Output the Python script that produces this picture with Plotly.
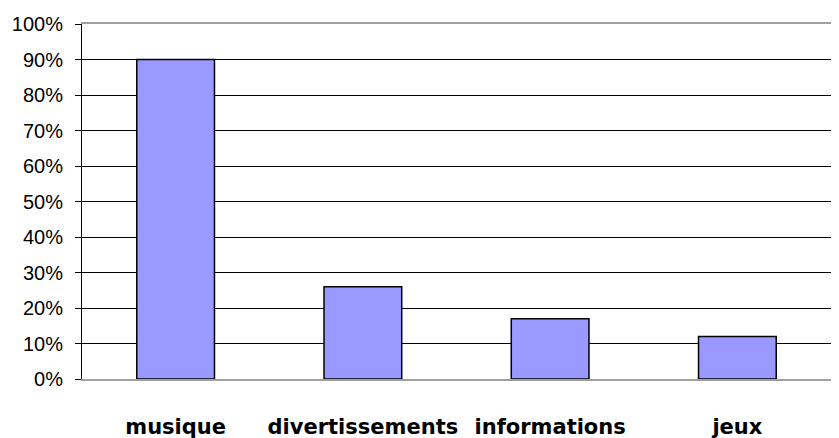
import plotly.graph_objects as go

categories = ["musique", "divertissements", "informations", "jeux"]
values = [90, 26, 17, 12]
y_ticks = list(range(0, 101, 10))
y_tick_labels = [f"{v}%" for v in y_ticks]

fig = go.Figure(
    go.Bar(
        x=categories,
        y=values,
        width=0.415,
        marker=dict(color="#9999FF", line=dict(color="black", width=1.5)),
    )
)

# page body has an 8px default margin, so the figure is offset by it
fig.update_layout(
    width=823,
    height=430,
    margin=dict(l=74, r=0, t=16, b=59),
    paper_bgcolor="white",
    plot_bgcolor="white",
    showlegend=False,
)

fig.update_xaxes(
    automargin=False,
    showline=True,
    linecolor="#A0A0A0",
    linewidth=1.5,
    mirror=True,
    showgrid=False,
    ticks="",
    ticklabelstandoff=28,
    tickfont=dict(family="DejaVu Sans", size=21, color="black", weight="bold"),
)

fig.update_yaxes(
    automargin=False,
    range=[0, 100],
    tickvals=y_ticks,
    ticktext=y_tick_labels,
    showline=True,
    linecolor="black",
    linewidth=1,
    showgrid=True,
    gridcolor="black",
    gridwidth=1,
    ticks="outside",
    ticklen=6,
    tickcolor="black",
    ticklabelstandoff=8,
    tickfont=dict(family="Liberation Sans", size=20, color="black"),
    zeroline=False,
)

fig.write_html("out.html")
